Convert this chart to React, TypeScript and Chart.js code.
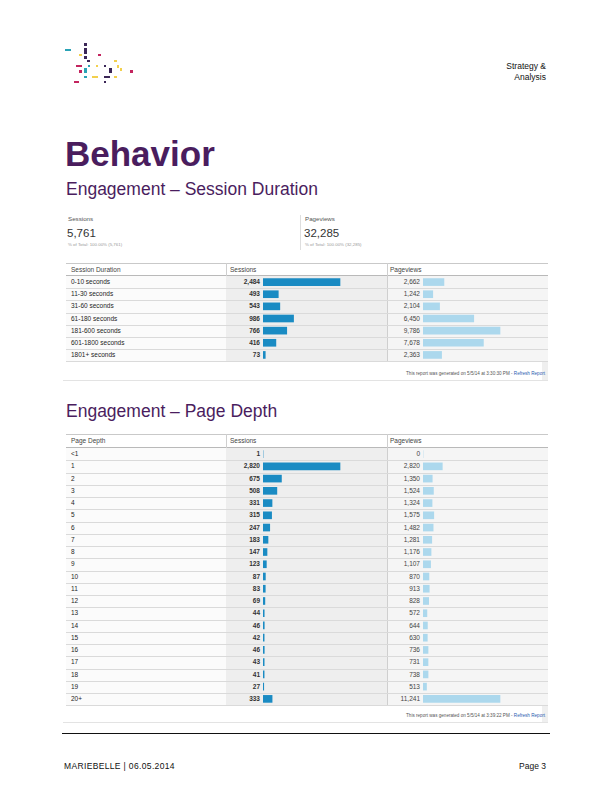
import React, { useEffect, useRef } from "react";
import { Chart, registerables } from "chart.js";

Chart.register(...registerables);

// ---------- data ----------
const durationCategories = [
  "0-10 seconds",
  "11-30 seconds",
  "31-60 seconds",
  "61-180 seconds",
  "181-600 seconds",
  "601-1800 seconds",
  "1801+ seconds",
];
const durationSessions = [2484, 493, 543, 986, 766, 416, 73];
const durationPageviews = [2662, 1242, 2104, 6450, 9786, 7678, 2363];

const depthCategories = [
  "<1", "1", "2", "3", "4", "5", "6", "7", "8", "9", "10",
  "11", "12", "13", "14", "15", "16", "17", "18", "19", "20+",
];
const depthSessions = [1, 2820, 675, 508, 331, 315, 247, 183, 147, 123, 87, 83, 69, 44, 46, 42, 46, 43, 41, 27, 333];
const depthPageviews = [0, 2820, 1350, 1524, 1324, 1575, 1482, 1281, 1176, 1107, 870, 913, 828, 572, 644, 630, 736, 731, 738, 513, 11241];

const totalSessions = 5761;
const totalPageviews = 32285;

// ---------- decorative logo (layout only) ----------
const TEAL = "#2aa3b6";
const PURPLE = "#3b2757";
const PINK = "#c3245e";
const YELLOW = "#f2d04d";
const logoMarks: [number, number, number, number, string][] = [
  [65, 49, 6, 2, TEAL],
  [84, 42.5, 2.5, 3, PURPLE],
  [84, 48, 2.5, 6, PURPLE],
  [79, 54, 2.5, 2, YELLOW],
  [98, 54, 2.5, 2, PINK],
  [84, 56, 2.5, 3, PURPLE],
  [87, 59.5, 2.5, 2.5, PURPLE],
  [114, 59.5, 2.5, 2.5, YELLOW],
  [76, 64.5, 6, 2.5, PINK],
  [87.5, 64.5, 2.5, 2.5, TEAL],
  [95.5, 64.5, 2.5, 2.5, YELLOW],
  [103.5, 64.5, 2.5, 2.5, PURPLE],
  [116.5, 64.5, 2.5, 3, YELLOW],
  [84, 67.5, 2.5, 5.5, TEAL],
  [109, 67.5, 2.5, 5.5, PURPLE],
  [119.5, 68, 2.5, 2.5, YELLOW],
  [79, 70, 2.5, 2.5, PINK],
  [130, 70, 2.5, 2.5, PINK],
  [84, 75.5, 2.5, 2, TEAL],
  [91.5, 75.5, 6.5, 2, YELLOW],
  [103.5, 75.5, 6, 2, PURPLE],
  [114, 75.5, 2.5, 2, YELLOW],
  [73.5, 80.5, 5.5, 2, PINK],
  [103.5, 80.5, 2.5, 2.5, PURPLE],
];

const FONT = "'Liberation Sans', Arial, sans-serif";
const TITLE_COLOR = "#4a1d5e";
const fmt = (v: number) => v.toLocaleString("en-US");

// ---------- bar column drawn with Chart.js ----------
function BarColumn(props: {
  labels: string[];
  values: number[];
  color: string;
  left: number;
  top: number;
  rowH: number;
}) {
  const { labels, values, color, left, top, rowH } = props;
  const ref = useRef<HTMLCanvasElement>(null);
  const width = 82;
  const h = Math.round(values.length * rowH);
  useEffect(() => {
    const max = Math.max(...values);
    const chart = new Chart(ref.current as HTMLCanvasElement, {
      type: "bar",
      data: {
        labels,
        datasets: [
          {
            data: values,
            backgroundColor: color,
            borderWidth: 0,
            barThickness: 7,
            categoryPercentage: 1,
            barPercentage: 1,
          },
        ],
      },
      options: {
        indexAxis: "y",
        responsive: false,
        maintainAspectRatio: false,
        animation: false,
        events: [],
        layout: { padding: 0 },
        plugins: { legend: { display: false }, tooltip: { enabled: false } },
        scales: {
          x: { display: false, min: 0, max: (max * width) / 77 },
          y: { display: false },
        },
      },
    });
    return () => chart.destroy();
  }, []);
  return (
    <canvas
      ref={ref}
      width={width}
      height={h}
      style={{ position: "absolute", left, top, width, height: h }}
    />
  );
}

// ---------- GA style table ----------
function GATable(props: {
  top: number;
  headerH: number;
  rowH: number;
  firstHeader: string;
  categories: string[];
  sessions: number[];
  pageviews: number[];
  footer: string;
  footerY: number;
  bottomY: number;
}) {
  const { top, headerH, rowH, firstHeader, categories, sessions, pageviews, footer, footerY, bottomY } = props;
  const L = 66, C2 = 226, C3 = 387, R = 548;
  const rowsTop = top + headerH;
  const n = categories.length;
  const rowsH = n * rowH;
  const txt: React.CSSProperties = {
    position: "absolute",
    fontFamily: FONT,
    fontSize: 6.5,
    color: "#222",
    whiteSpace: "nowrap",
    lineHeight: `${rowH}px`,
  };
  return (
    <>
      {/* right gray strip */}
      <div style={{ position: "absolute", left: R - 6, top: top, width: 6, height: bottomY - top, background: "#efefef" }} />
      {/* column backgrounds */}
      <div style={{ position: "absolute", left: L, top: rowsTop, width: C2 - L, height: rowsH, background: "#fbfbfb" }} />
      <div style={{ position: "absolute", left: C2, top: rowsTop, width: C3 - C2, height: rowsH, background: "#eeeeee" }} />
      <div style={{ position: "absolute", left: C3, top: rowsTop, width: R - C3, height: rowsH, background: "#f5f5f5" }} />
      {/* header */}
      <div style={{ position: "absolute", left: L, top, width: R - L, height: headerH, background: "#fff", borderTop: "1px solid #c9c9c9", boxSizing: "border-box" }} />
      <div style={{ position: "absolute", left: L, top: rowsTop - 1, width: R - L, height: 1, background: "#b9b9b9" }} />
      <div style={{ position: "absolute", left: C2, top, width: 1, height: headerH, background: "#cfcfcf" }} />
      <div style={{ position: "absolute", left: C3, top, width: 1, height: headerH + rowsH, background: "#cfcfcf" }} />
      <div style={{ ...txt, left: L + 5, top: top, lineHeight: `${headerH}px`, color: "#444" }}>{firstHeader}</div>
      <div style={{ ...txt, left: C2 + 4, top: top, lineHeight: `${headerH}px`, color: "#444" }}>Sessions</div>
      <div style={{ ...txt, left: C3 + 3, top: top, lineHeight: `${headerH}px`, color: "#444" }}>Pageviews</div>
      {/* rows */}
      {categories.map((c, i) => (
        <React.Fragment key={c}>
          <div style={{ position: "absolute", left: L, top: rowsTop + (i + 1) * rowH, width: R - L, height: 1, background: "#dadada" }} />
          <div style={{ ...txt, left: L + 5, top: rowsTop + i * rowH, color: "#1d1d1d" }}>{c}</div>
          <div style={{ ...txt, right: 612 - 260, top: rowsTop + i * rowH, fontWeight: "bold", color: "#333" }}>{fmt(sessions[i])}</div>
          <div style={{ ...txt, right: 612 - 420, top: rowsTop + i * rowH, color: "#444" }}>{fmt(pageviews[i])}</div>
        </React.Fragment>
      ))}
      <BarColumn labels={categories} values={sessions} color="#1a8bc3" left={263} top={rowsTop} rowH={rowH} />
      <BarColumn labels={categories} values={pageviews} color="#acd8ed" left={423} top={rowsTop} rowH={rowH} />
      {/* report footer */}
      <div style={{ position: "absolute", right: 612 - 545, top: footerY - 3, fontFamily: FONT, fontSize: 4.6, color: "#555", whiteSpace: "nowrap", lineHeight: "6px" }}>
        {footer} - <span style={{ color: "#2a5db0" }}>Refresh Report</span>
      </div>
      <div style={{ position: "absolute", left: 63, top: bottomY, width: R - 63, height: 1, background: "#e3e3e3" }} />
    </>
  );
}

export default function App() {
  return (
    <div style={{ position: "absolute", left: 0, top: 0, width: 612, height: 792, background: "#fff", overflow: "hidden", fontFamily: FONT }}>
      {/* logo */}
      {logoMarks.map((m, i) => (
        <div key={i} style={{ position: "absolute", left: m[0], top: m[1], width: m[2], height: m[3], background: m[4] }} />
      ))}
      {/* header right */}
      <div style={{ position: "absolute", right: 612 - 546, top: 61, textAlign: "right", fontSize: 8.5, lineHeight: "11px", color: "#111" }}>
        Strategy &amp;<br />Analysis
      </div>
      {/* title */}
      <div style={{ position: "absolute", left: 65, top: 134, fontSize: 35, fontWeight: "bold", color: TITLE_COLOR, lineHeight: "40px" }}>Behavior</div>
      <div style={{ position: "absolute", left: 66, top: 178, fontSize: 17.5, color: TITLE_COLOR, lineHeight: "22px", whiteSpace: "nowrap" }}>Engagement – Session Duration</div>

      {/* scorecards */}
      <div style={{ position: "absolute", left: 68, top: 215, fontSize: 6.2, color: "#555" }}>Sessions</div>
      <div style={{ position: "absolute", left: 67, top: 227, fontSize: 11.5, color: "#333", lineHeight: "13px" }}>{fmt(totalSessions)}</div>
      <div style={{ position: "absolute", left: 68, top: 241.5, fontSize: 4.4, color: "#999", whiteSpace: "nowrap" }}>% of Total: 100.00% ({fmt(totalSessions)})</div>
      <div style={{ position: "absolute", left: 300, top: 215, width: 1, height: 35, background: "#dedede" }} />
      <div style={{ position: "absolute", left: 305, top: 215, fontSize: 6.2, color: "#555" }}>Pageviews</div>
      <div style={{ position: "absolute", left: 304, top: 227, fontSize: 11.5, color: "#333", lineHeight: "13px" }}>{fmt(totalPageviews)}</div>
      <div style={{ position: "absolute", left: 305, top: 241.5, fontSize: 4.4, color: "#999", whiteSpace: "nowrap" }}>% of Total: 100.00% ({fmt(totalPageviews)})</div>

      <GATable
        top={263}
        headerH={13}
        rowH={12.2}
        firstHeader="Session Duration"
        categories={durationCategories}
        sessions={durationSessions}
        pageviews={durationPageviews}
        footer="This report was generated on 5/5/14 at 3:30:30 PM"
        footerY={374}
        bottomY={380}
      />

      <div style={{ position: "absolute", left: 66, top: 400, fontSize: 17.5, color: TITLE_COLOR, lineHeight: "22px", whiteSpace: "nowrap" }}>Engagement – Page Depth</div>

      <GATable
        top={434}
        headerH={14}
        rowH={12.25}
        firstHeader="Page Depth"
        categories={depthCategories}
        sessions={depthSessions}
        pageviews={depthPageviews}
        footer="This report was generated on 5/5/14 at 3:39:22 PM"
        footerY={716}
        bottomY={722}
      />

      {/* page footer */}
      <div style={{ position: "absolute", left: 62, top: 733, width: 488, height: 1, background: "#111" }} />
      <div style={{ position: "absolute", left: 64, top: 761, fontSize: 8.5, letterSpacing: 0.35, color: "#111", whiteSpace: "nowrap" }}>MARIEBELLE | 06.05.2014</div>
      <div style={{ position: "absolute", right: 612 - 546, top: 761, fontSize: 8.5, color: "#111" }}>Page 3</div>
    </div>
  );
}
